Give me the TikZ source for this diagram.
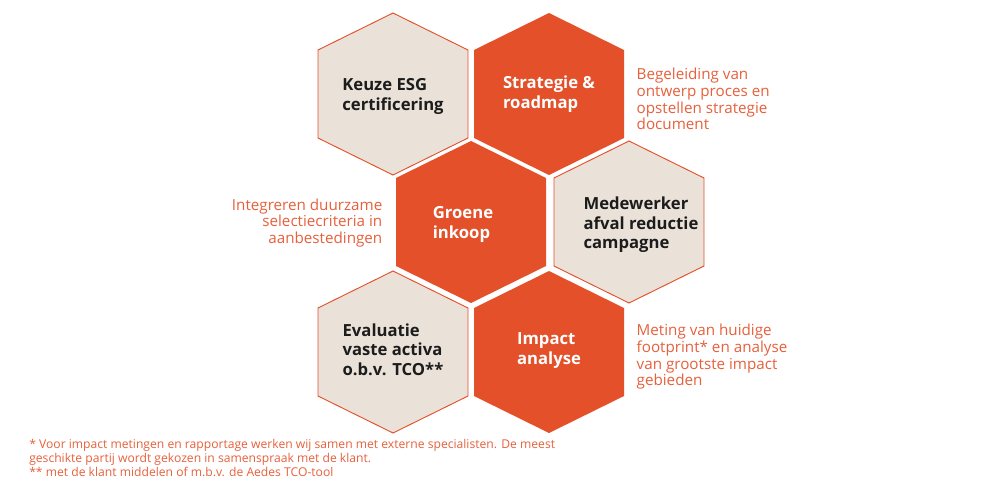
\documentclass[tikz,border=0pt]{standalone}
\usepackage{fontspec}
\setmainfont{Open Sans}
\definecolor{oranje}{HTML}{E4502A}
\definecolor{zand}{HTML}{EAE2D9}
\definecolor{tekstoranje}{HTML}{E6603C}
\definecolor{donker}{HTML}{1C1C1C}
% zeshoek om een middelpunt, punt boven
\newcommand{\zeshoek}[1]{(#1) ++(0,-81) -- ++(75,37) -- ++(0,88) -- ++(-75,37) -- ++(-75,-37) -- ++(0,-88) -- cycle}
\tikzset{
  vol/.style={fill=oranje},
  licht/.style={fill=zand,draw=oranje,line width=0.7pt},
  kop/.style={align=left,font=\fontsize{12.5}{14.6}\selectfont\bfseries},
  uitleg/.style={text=tekstoranje,font=\fontsize{11.4}{12.5}\selectfont},
}
\begin{document}
\begin{tikzpicture}[x=0.75pt,y=-0.75pt]
  \useasboundingbox (0,0) rectangle (1000,483);

  \coordinate (c1) at (393,94);
  \coordinate (c2) at (549,94);
  \coordinate (c3) at (471,222);
  \coordinate (c4) at (629,222);
  \coordinate (c5) at (393,352);
  \coordinate (c6) at (549,352);

  \fill[licht] \zeshoek{c1};
  \fill[vol]   \zeshoek{c2};
  \fill[vol]   \zeshoek{c3};
  \fill[licht] \zeshoek{c4};
  \fill[licht] \zeshoek{c5};
  \fill[vol]   \zeshoek{c6};

  \node[kop,text=donker] (keuze) at ([yshift=-2]c1) {Keuze ESG\\certificering};
  \node[kop,text=white] (strategie) at (c2) {Strategie \&\\roadmap};
  \node[kop,text=white] (groene) at ([xshift=-6,yshift=-2]c3) {Groene\\inkoop};
  \node[kop,text=donker] (medewerker) at ([xshift=9,yshift=-2]c4) {Medewerker\\afval reductie\\campagne};
  \node[kop,text=donker] (evaluatie) at ([yshift=2]c5) {Evaluatie\\vaste activa\\o.b.v. TCO**};
  \node[kop,text=white] (impact) at ([yshift=1]c6) {Impact\\analyse};

  \node[uitleg,align=left,anchor=west] (begeleiding) at (632,99)
    {Begeleiding van\\ontwerp proces en\\opstellen strategie\\document};
  \node[uitleg,align=right,anchor=east] (integreren) at (387,223)
    {Integreren duurzame\\selectiecriteria in\\aanbestedingen};
  \node[uitleg,align=left,anchor=west] (meting) at (632,357)
    {Meting van huidige\\footprint* en analyse\\van grootste impact\\gebieden};

  \node[text=tekstoranje,align=left,anchor=north west,inner sep=0pt,
        font=\fontsize{9.1}{10.5}\selectfont] (voetnoot) at (29,439)
    {* Voor impact metingen en rapportage werken wij samen met externe specialisten. De meest\\
     geschikte partij wordt gekozen in samenspraak met de klant.\\
     ** met de klant middelen of m.b.v. de Aedes TCO-tool};
\end{tikzpicture}
\end{document}
